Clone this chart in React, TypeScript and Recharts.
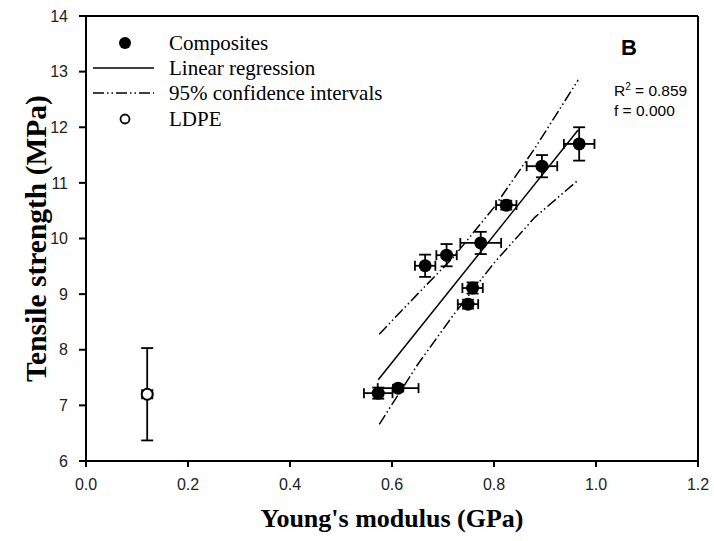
import { ScatterChart, Scatter, XAxis, YAxis, ErrorBar, ReferenceLine } from "recharts"

// composites: Young's modulus (GPa) vs tensile strength (MPa)
const modulus = [0.967, 0.894, 0.824, 0.774, 0.707, 0.665, 0.758, 0.749, 0.573, 0.612]
const strength = [11.7, 11.3, 10.6, 9.92, 9.7, 9.51, 9.11, 8.82, 7.22, 7.31]
const modulusErr = [0.03, 0.03, 0.02, 0.04, 0.02, 0.02, 0.02, 0.02, 0.028, 0.04]
const strengthErr = [0.3, 0.2, 0.08, 0.2, 0.2, 0.2, 0.1, 0.08, 0.1, 0.06]

// neat LDPE
const ldpeModulus = [0.12]
const ldpeStrength = [7.2]
const ldpeModulusErr = [0.01]
const ldpeStrengthErr = [0.83]

// fitted line and 95% bands
const regX = [0.573, 0.965]
const regY = [7.46, 11.95]
const bandX = [0.575, 0.65, 0.72, 0.8, 0.88, 0.965]
const upperY = [8.28, 9.0, 9.66, 10.56, 11.62, 12.85]
const lowerY = [6.66, 7.73, 8.62, 9.56, 10.38, 11.05]

const xTicks = [0, 0.2, 0.4, 0.6, 0.8, 1.0, 1.2]
const yTicks = [6, 7, 8, 9, 10, 11, 12, 13, 14]

const composites = modulus.map((x, i) => ({ x, y: strength[i], xErr: modulusErr[i], yErr: strengthErr[i] }))
const ldpe = ldpeModulus.map((x, i) => ({ x, y: ldpeStrength[i], xErr: ldpeModulusErr[i], yErr: ldpeStrengthErr[i] }))
const regression = regX.map((x, i) => ({ x, y: regY[i] }))
const upper = bandX.map((x, i) => ({ x, y: upperY[i] }))
const lower = bandX.map((x, i) => ({ x, y: lowerY[i] }))

const dashDot = "11 3 1.5 3 1.5 3"
const serif = "'Liberation Serif', 'Times New Roman', serif"
const sans = "'Liberation Sans', Arial, sans-serif"
const tick = { fontSize: 16, fill: "#222", fontFamily: sans }

const noDot = () => <g />

export default function App() {
  return (
    <div style={{ position: "absolute", left: 0, top: 0, width: 714, height: 541, background: "#fff" }}>
      <ScatterChart width={714} height={541} margin={{ top: 16, right: 16, bottom: 50, left: 26 }}>
        <XAxis
          type="number"
          dataKey="x"
          domain={[0, 1.2]}
          ticks={xTicks}
          tickFormatter={(v: number) => v.toFixed(1)}
          tick={tick}
          tickSize={6}
          tickMargin={12}
          height={30}
          stroke="#000"
          strokeWidth={2}
          label={{
            value: "Young's modulus (GPa)",
            position: "bottom",
            offset: 18,
            style: { fontFamily: serif, fontWeight: "bold", fontSize: 26, fill: "#000" },
          }}
        />
        <YAxis
          type="number"
          dataKey="y"
          domain={[6, 14]}
          ticks={yTicks}
          tick={tick}
          tickSize={7}
          tickMargin={11}
          width={60}
          stroke="#000"
          strokeWidth={2}
          label={{
            value: "Tensile strength (MPa)",
            angle: -90,
            position: "insideLeft",
            offset: 10,
            style: { textAnchor: "middle", fontFamily: serif, fontWeight: "bold", fontSize: 29.5, fill: "#000" },
          }}
        />
        <ReferenceLine y={14} stroke="#000" strokeWidth={2} />
        <ReferenceLine x={1.2} stroke="#000" strokeWidth={2} />

        <Scatter data={upper} line={{ stroke: "#000", strokeWidth: 1.5, strokeDasharray: dashDot }} shape={noDot} isAnimationActive={false} />
        <Scatter data={lower} line={{ stroke: "#000", strokeWidth: 1.5, strokeDasharray: dashDot }} shape={noDot} isAnimationActive={false} />
        <Scatter data={regression} line={{ stroke: "#000", strokeWidth: 1.5 }} shape={noDot} isAnimationActive={false} />

        <Scatter
          data={composites}
          isAnimationActive={false}
          shape={(p: any) => <circle cx={p.cx} cy={p.cy} r={6.5} fill="#000" />}
        >
          <ErrorBar dataKey="xErr" direction="x" width={5} stroke="#000" strokeWidth={1.8} />
          <ErrorBar dataKey="yErr" direction="y" width={6} stroke="#000" strokeWidth={1.8} />
        </Scatter>
        <Scatter
          data={ldpe}
          isAnimationActive={false}
          shape={(p: any) => <circle cx={p.cx} cy={p.cy} r={5.5} fill="#fff" stroke="#000" strokeWidth={2} />}
        >
          <ErrorBar dataKey="yErr" direction="y" width={6} stroke="#000" strokeWidth={1.8} />
          <ErrorBar dataKey="xErr" direction="x" width={5} stroke="#000" strokeWidth={1.8} />
        </Scatter>
      </ScatterChart>

      <svg width={714} height={541} style={{ position: "absolute", left: 0, top: 0, pointerEvents: "none" }}>
        <g fontFamily={serif} fontSize={21} fill="#000">
          <circle cx={125} cy={43} r={6} fill="#000" />
          <text x={169} y={50}>Composites</text>
          <line x1={93} y1={68} x2={154} y2={68} stroke="#000" strokeWidth={1.5} />
          <text x={169} y={75}>Linear regression</text>
          <line x1={93} y1={93} x2={154} y2={93} stroke="#000" strokeWidth={1.5} strokeDasharray={dashDot} />
          <text x={169} y={100}>95% confidence intervals</text>
          <circle cx={125} cy={119} r={4.5} fill="#fff" stroke="#000" strokeWidth={1.8} />
          <text x={169} y={126}>LDPE</text>
        </g>
        <text x={629} y={55} textAnchor="middle" fontFamily={sans} fontWeight="bold" fontSize={22} fill="#000">B</text>
        <g fontFamily={sans} fontSize={15.5} fill="#000">
          <text x={614} y={96}>
            R<tspan dy={-6} fontSize={10}>2</tspan><tspan dy={6}> = 0.859</tspan>
          </text>
          <text x={614} y={116}>f = 0.000</text>
        </g>
      </svg>
    </div>
  )
}
